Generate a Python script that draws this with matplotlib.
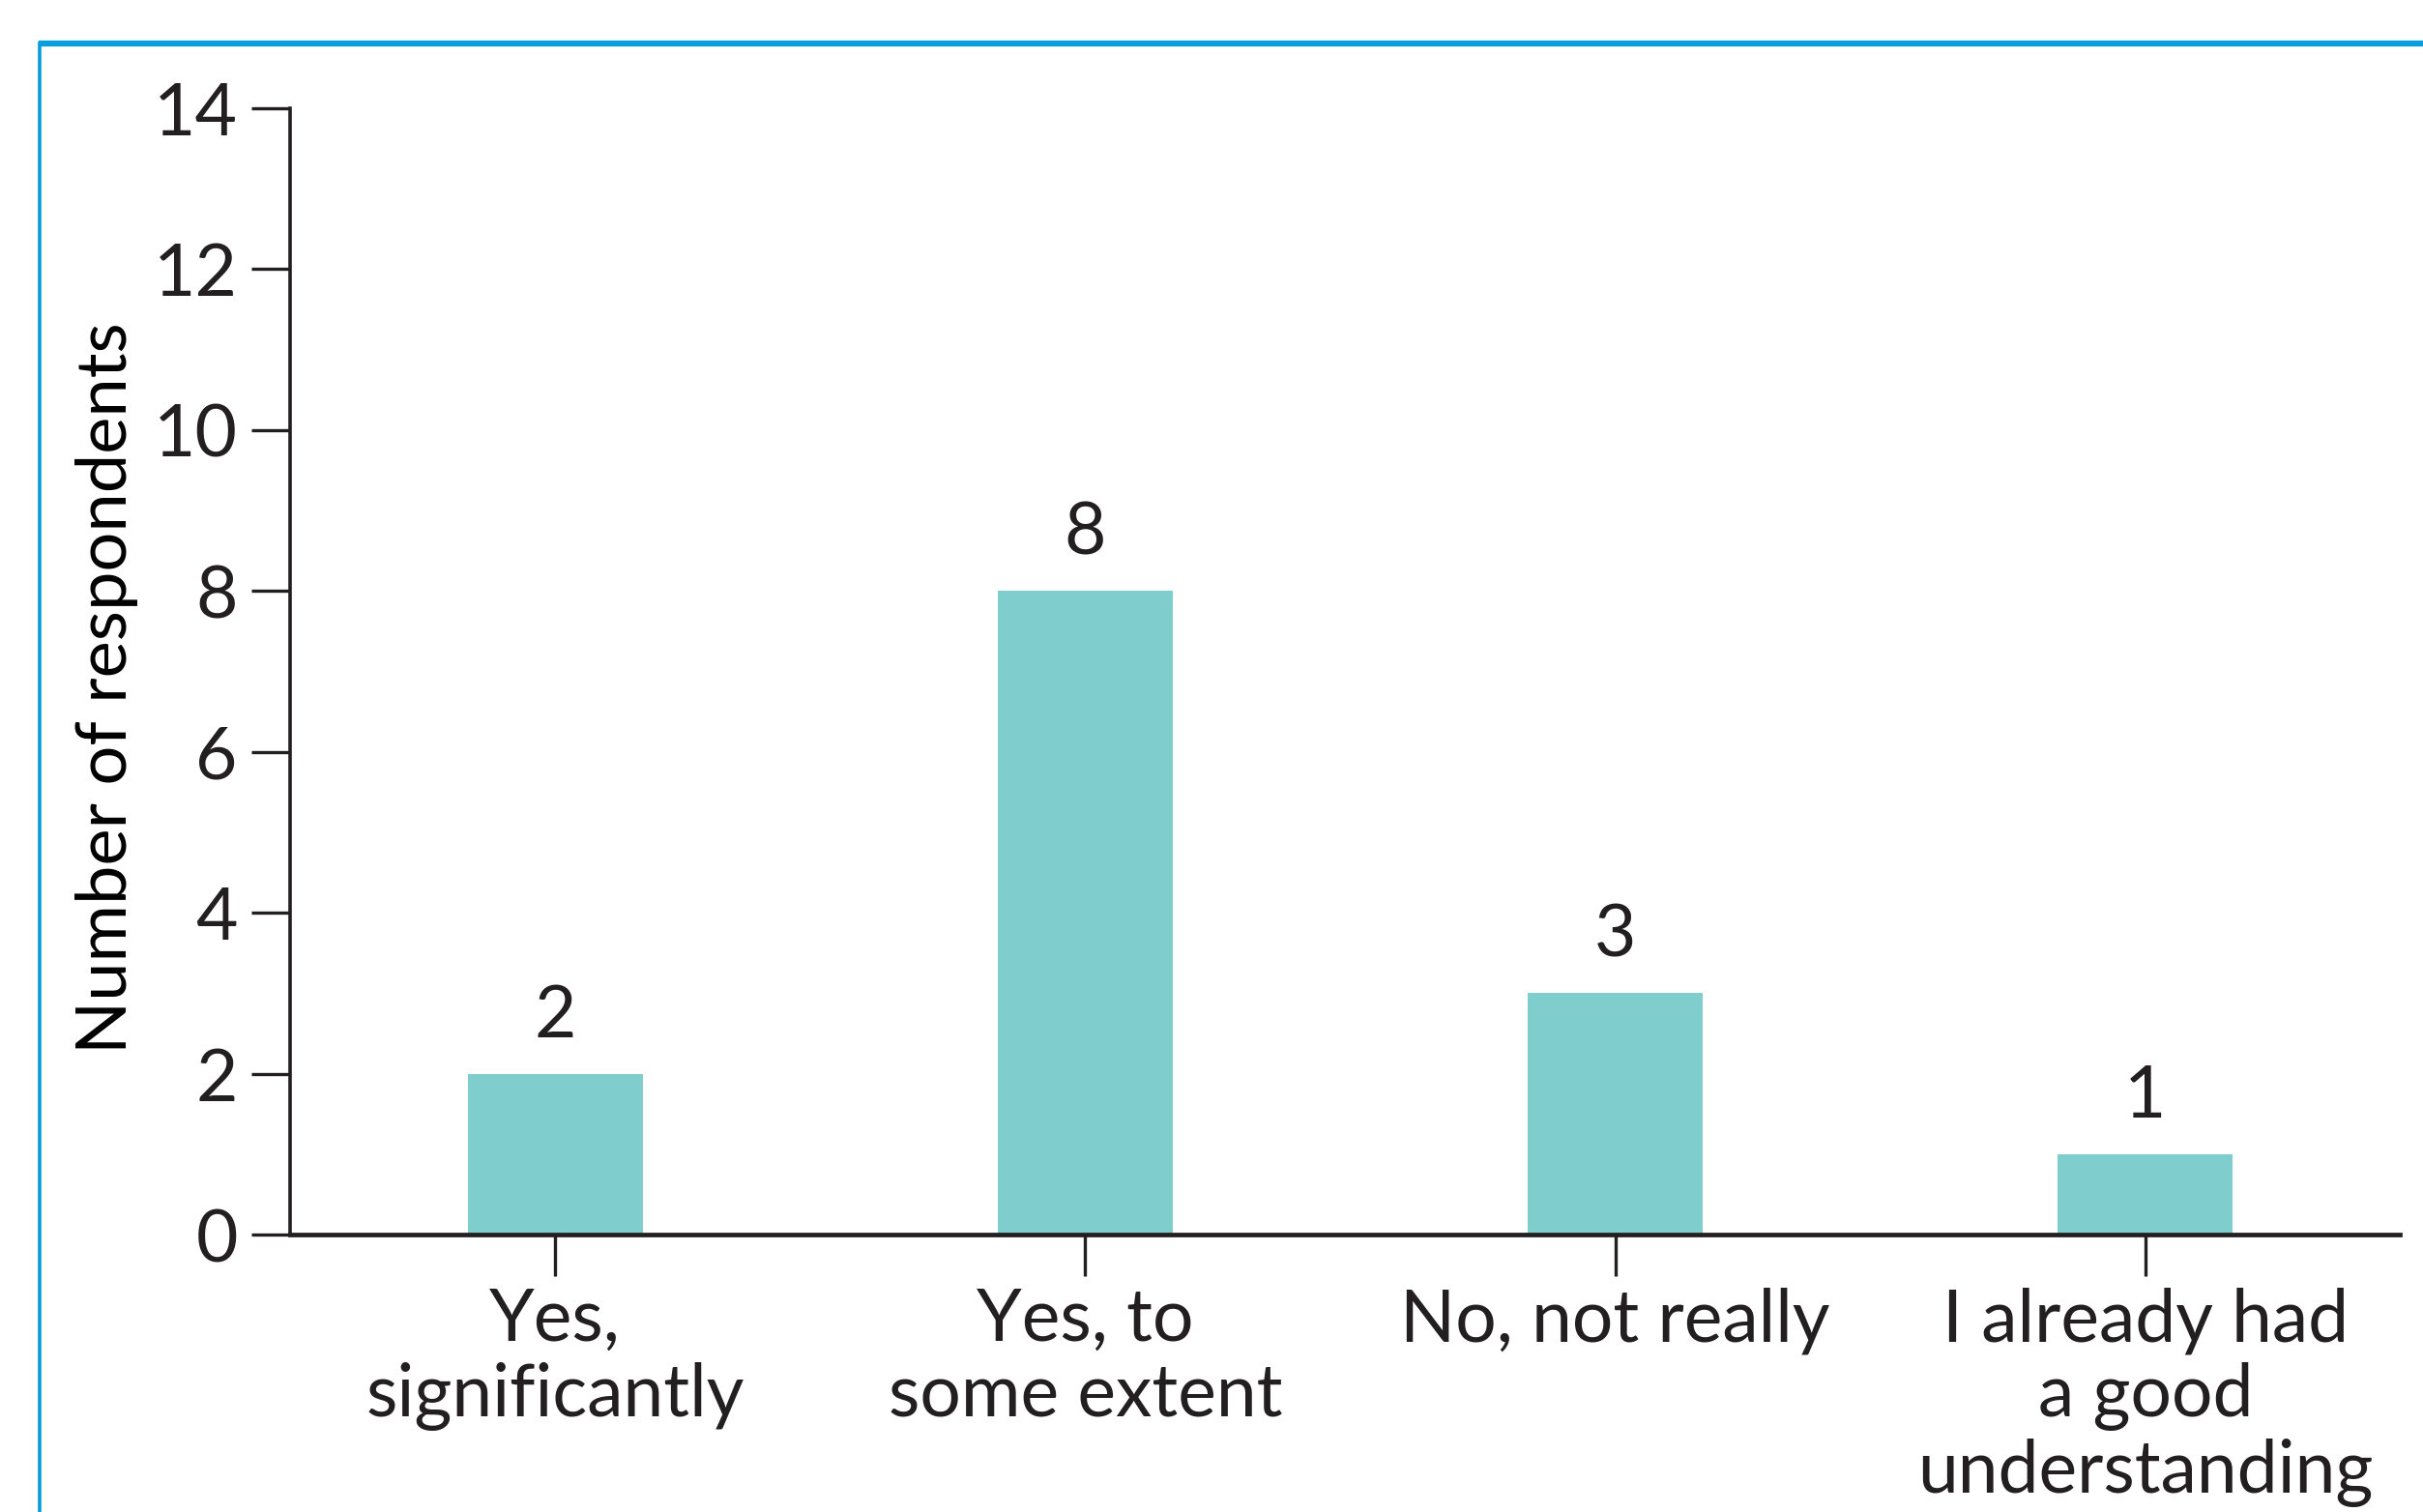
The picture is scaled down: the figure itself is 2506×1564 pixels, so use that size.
import numpy as np
import matplotlib
matplotlib.use("Agg")
import matplotlib.pyplot as plt
from matplotlib.lines import Line2D

categories = ["Yes,\nsignificantly", "Yes, to\nsome extent", "No, not really",
              "I already had\na good\nunderstanding"]
counts = [2, 8, 3, 1]
yticks = [0, 2, 4, 6, 8, 10, 12, 14]

ink = "#231f20"
teal = "#7fcdcd"
frame_blue = "#0a9ddb"

plt.rcParams["font.family"] = ["Lato", "DejaVu Sans"]
plt.rcParams["font.size"] = 54
plt.rcParams["text.color"] = ink

fig = plt.figure(figsize=(25.06, 15.64), dpi=100)
ax = fig.add_axes([0.1197, 0.1835, 0.8707, 0.7449])

x = np.arange(len(categories))
bars = ax.bar(x, counts, width=0.33, color=teal, zorder=2)
for xi, v in zip(x, counts):
    ax.text(xi, v + 0.3, str(v), ha="center", va="bottom", color=ink)

ax.set_xlim(-0.5, 3.48)
ax.set_ylim(0, 14)
ax.set_yticks(yticks)
ax.set_xticks(x)
ax.set_xticklabels(categories, linespacing=1.15)
ax.set_ylabel("Number of respondents", fontsize=52)
ax.yaxis.set_label_coords(-0.072, 0.485)

for side in ("top", "right"):
    ax.spines[side].set_visible(False)
ax.spines["left"].set_linewidth(2.6)
ax.spines["bottom"].set_linewidth(3.4)
ax.spines["bottom"].set_zorder(3)
ax.spines["left"].set_color(ink)
ax.spines["bottom"].set_color(ink)
ax.tick_params(axis="y", length=29, width=2.4, pad=10, colors=ink)
ax.tick_params(axis="x", length=31, width=2.4, pad=8, colors=ink)

# blue panel frame
fig.add_artist(Line2D([0.016, 1.0], [0.9712, 0.9712], color=frame_blue, lw=4.5,
                      transform=fig.transFigure, solid_capstyle="butt"))
fig.add_artist(Line2D([0.0165, 0.0165], [0.0, 0.9727], color=frame_blue, lw=2.6,
                      transform=fig.transFigure, solid_capstyle="butt"))

fig.savefig("out.png", dpi=100)
